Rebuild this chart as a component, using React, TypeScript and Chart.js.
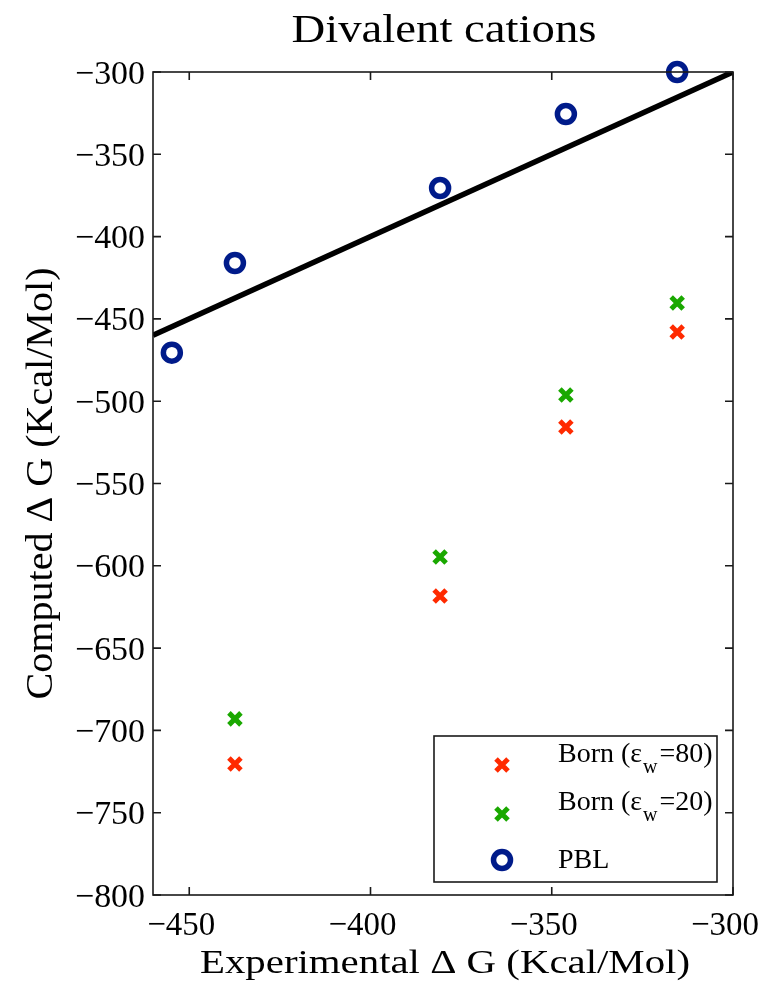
import React, { useEffect, useRef } from "react";
import { Chart, registerables } from "chart.js";

Chart.register(...registerables);

// ---- data ----
const expPBL = [-454.8, -437.4, -380.8, -346.1, -315.4];
const compPBL = [-470.5, -416, -370.5, -325.5, -300];
const expBorn = [-437.4, -380.8, -346.1, -315.4];
const born80 = [-720.4, -618.3, -515.7, -458];
const born20 = [-693, -594.7, -496.2, -440.3];
const idealLine = [-460, -300];
const xTicks = [-450, -400, -350, -300];
const yTicks = [-300, -350, -400, -450, -500, -550, -600, -650, -700, -750, -800];
const titleText = "Divalent cations";
const xTitle = "Experimental \u0394 G (Kcal/Mol)";
const yTitle = "Computed \u0394 G (Kcal/Mol)";
const legendItems = [
  { pre: "Born (\u03b5", sub: "w", post: "=80)", kind: "cross", color: "#ff2a00" },
  { pre: "Born (\u03b5", sub: "w", post: "=20)", kind: "cross", color: "#1aa800" },
  { pre: "PBL", sub: "", post: "", kind: "circle", color: "#001b8a" },
];

const SERIF = '"Liberation Serif", Tinos, "Times New Roman", Times, serif';
const fmt = (v: number) => (v < 0 ? "\u2212" + Math.abs(v) : String(v));

function fitText(ctx: CanvasRenderingContext2D, text: string, x: number, y: number, size: number, targetW: number, align: "left" | "center" | "right") {
  ctx.save();
  ctx.font = `${size}px ${SERIF}`;
  const w = ctx.measureText(text).width;
  const sx = targetW > 0 ? targetW / w : 1;
  ctx.translate(x, y);
  ctx.scale(sx, 1);
  ctx.textAlign = align;
  ctx.textBaseline = "alphabetic";
  ctx.fillText(text, 0, 0);
  ctx.restore();
}

function drawCross(ctx: CanvasRenderingContext2D, x: number, y: number, r: number, color: string, lw: number) {
  ctx.save();
  ctx.strokeStyle = color;
  ctx.lineWidth = lw;
  ctx.lineCap = "butt";
  ctx.beginPath();
  ctx.moveTo(x - r, y - r);
  ctx.lineTo(x + r, y + r);
  ctx.moveTo(x + r, y - r);
  ctx.lineTo(x - r, y + r);
  ctx.stroke();
  ctx.restore();
}

function drawCircle(ctx: CanvasRenderingContext2D, x: number, y: number, r: number, color: string, lw: number) {
  ctx.save();
  ctx.strokeStyle = color;
  ctx.lineWidth = lw;
  ctx.beginPath();
  ctx.arc(x, y, r, 0, Math.PI * 2);
  ctx.stroke();
  ctx.restore();
}

const framePlugin = {
  id: "matlabFrame",
  afterDraw(chart: any) {
    const ctx: CanvasRenderingContext2D = chart.ctx;
    const { left, right, top, bottom } = chart.chartArea;
    const xs = chart.scales.x;
    const ys = chart.scales.y;
    ctx.save();
    // box
    ctx.strokeStyle = "#1a1a1a";
    ctx.lineWidth = 1.6;
    ctx.strokeRect(left, top, right - left, bottom - top);
    // inward ticks
    const tl = 8;
    ctx.beginPath();
    xs.ticks.forEach((t: any) => {
      const px = xs.getPixelForValue(t.value);
      ctx.moveTo(px, bottom);
      ctx.lineTo(px, bottom - tl);
      ctx.moveTo(px, top);
      ctx.lineTo(px, top + tl);
    });
    ys.ticks.forEach((t: any) => {
      const py = ys.getPixelForValue(t.value);
      ctx.moveTo(left, py);
      ctx.lineTo(left + tl, py);
      ctx.moveTo(right, py);
      ctx.lineTo(right - tl, py);
    });
    ctx.stroke();

    // tick labels
    ctx.fillStyle = "#000";
    ctx.textBaseline = "alphabetic";
    ys.ticks.forEach((t: any) => {
      const py = ys.getPixelForValue(t.value);
      fitText(ctx, fmt(t.value), left - 8, py + 11.5, 34, 70, "right");
    });
    xs.ticks.forEach((t: any) => {
      const px = xs.getPixelForValue(t.value);
      fitText(ctx, fmt(t.value), px - 8, bottom + 40, 34, 68, "center");
    });

    // titles
    fitText(ctx, titleText, 444, 42, 40, 305, "center");
    fitText(ctx, xTitle, 445, 973, 34, 490, "center");
    ctx.save();
    ctx.translate(52, (top + bottom) / 2);
    ctx.rotate(-Math.PI / 2);
    fitText(ctx, yTitle, 0, 0, 38, 432, "center");
    ctx.restore();

    // legend
    const lx = 434, ly = 736, lw = 283, lh = 146;
    ctx.fillStyle = "#fff";
    ctx.fillRect(lx, ly, lw, lh);
    ctx.strokeStyle = "#1a1a1a";
    ctx.lineWidth = 1.6;
    ctx.strokeRect(lx, ly, lw, lh);
    const markerY = [765, 814, 860];
    const textY = [762, 810, 868];
    legendItems.forEach((it, i) => {
      if (it.kind === "cross") drawCross(ctx, 502, markerY[i], 6, it.color, 5);
      else drawCircle(ctx, 502, markerY[i], 8.5, it.color, 5.5);
      ctx.fillStyle = "#000";
      ctx.textAlign = "left";
      ctx.font = `28px ${SERIF}`;
      let x = 558;
      ctx.fillText(it.pre, x, textY[i]);
      x += ctx.measureText(it.pre).width;
      if (it.sub) {
        ctx.font = `20px ${SERIF}`;
        ctx.fillText(it.sub, x + 1, textY[i] + 11);
        x += ctx.measureText(it.sub).width + 3;
        ctx.font = `28px ${SERIF}`;
        ctx.fillText(it.post, x, textY[i]);
      }
    });
    ctx.restore();
  },
};

const crossPlugin = {
  id: "crossMarks",
  afterDatasetsDraw(chart: any) {
    const ctx: CanvasRenderingContext2D = chart.ctx;
    chart.data.datasets.forEach((ds: any, i: number) => {
      if (!ds.customCross) return;
      const meta = chart.getDatasetMeta(i);
      meta.data.forEach((pt: any) => {
        drawCross(ctx, pt.x, pt.y, 6, ds.customCross, 5);
      });
    });
  },
};

export default function App() {
  const ref = useRef<HTMLCanvasElement | null>(null);
  useEffect(() => {
    if (!ref.current) return;
    const chart = new Chart(ref.current, {
      type: "scatter",
      data: {
        datasets: [
          {
            label: "PBL",
            data: expPBL.map((x, i) => ({ x, y: compPBL[i] })),
            pointStyle: "circle",
            pointRadius: 8.5,
            pointBorderWidth: 5.5,
            borderColor: "#001b8a",
            backgroundColor: "rgba(0,0,0,0)",
            clip: false,
            order: 0,
          },
          {
            label: "Born80",
            data: expBorn.map((x, i) => ({ x, y: born80[i] })),
            pointRadius: 0,
            customCross: "#ff2a00",
            order: 1,
          } as any,
          {
            label: "Born20",
            data: expBorn.map((x, i) => ({ x, y: born20[i] })),
            pointRadius: 0,
            customCross: "#1aa800",
            order: 1,
          } as any,
          {
            label: "ideal",
            data: idealLine.map((v) => ({ x: v, y: v })),
            showLine: true,
            borderColor: "#000",
            borderWidth: 5.5,
            pointRadius: 0,
            order: 5,
          },
        ],
      },
      options: {
        animation: false,
        responsive: true,
        maintainAspectRatio: false,
        layout: { padding: { left: 0, right: 33, top: 72, bottom: 0 } },
        plugins: { legend: { display: false }, title: { display: false }, tooltip: { enabled: false } },
        scales: {
          x: {
            type: "linear",
            min: -460,
            max: -300,
            grid: { display: false },
            border: { display: false },
            ticks: { display: false },
            afterBuildTicks: (s: any) => {
              s.ticks = xTicks.map((v) => ({ value: v }));
            },
            afterFit: (s: any) => {
              s.height = 90;
            },
          },
          y: {
            type: "linear",
            min: -800,
            max: -300,
            grid: { display: false },
            border: { display: false },
            ticks: { display: false },
            afterBuildTicks: (s: any) => {
              s.ticks = yTicks.map((v) => ({ value: v }));
            },
            afterFit: (s: any) => {
              s.width = 153;
            },
          },
        },
      },
      plugins: [crossPlugin, framePlugin],
    });
    let alive = true;
    const fonts = (document as any).fonts;
    if (fonts && fonts.load) {
      Promise.all([
        fonts.load('34px "Liberation Serif"'),
        fonts.load('20px "Liberation Serif"'),
      ]).then(() => {
        if (alive) chart.draw();
      }).catch(() => {});
    }
    return () => {
      alive = false;
      chart.destroy();
    };
  }, []);
  return (
    <div style={{ position: "absolute", left: 0, top: 0, width: 766, height: 985, background: "#fff" }}>
      <canvas ref={ref} />
    </div>
  );
}
